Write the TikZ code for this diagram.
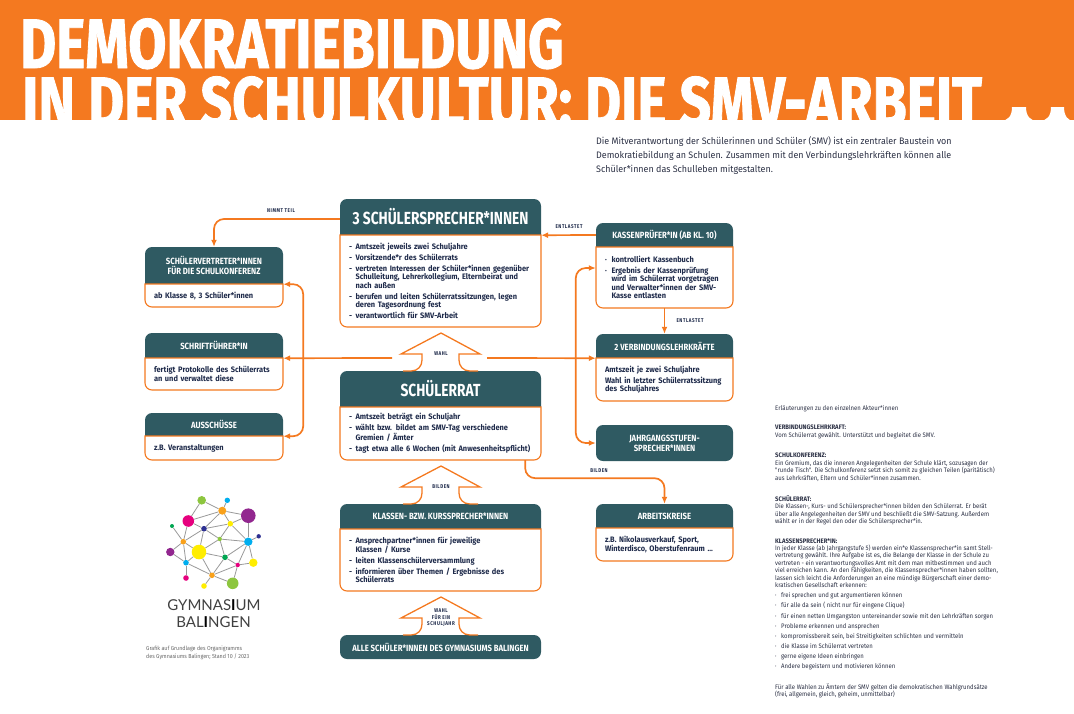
\documentclass[tikz,border=0pt]{standalone}
\usepackage{fontspec}
\usepackage{tikz}
\usetikzlibrary{arrows.meta}
\setmainfont{Fira Sans}
\newfontfamily\titleFont[FakeStretch=0.79,BoldFeatures={FakeBold=1.2}]{Fira Sans}
\newfontfamily\headFont[FakeStretch=0.86]{Fira Sans}
\newfontfamily\bigFont[FakeStretch=0.785]{Fira Sans}
\newfontfamily\tagFont[FakeStretch=0.82,LetterSpace=10]{Fira Sans}
\newfontfamily\bodyFont[FakeStretch=0.94]{Fira Sans}
\newfontfamily\noteFont[FakeStretch=0.92]{Fira Sans}
\newfontfamily\introFont[FakeStretch=0.95]{Fira Sans}
\newfontfamily\logoFont{Lato}
\definecolor{smvOrange}{HTML}{F47920}
\definecolor{smvTeal}{HTML}{2F5A62}
\definecolor{smvInk}{HTML}{1E2A4A}
\definecolor{noteInk}{HTML}{2B3044}
\tikzset{
smvLine/.style={color=smvOrange,line width=1.7pt,rounded corners=10pt},
smvArrow/.style={smvLine,-{Latex[length=7pt,width=6pt]}},
smvBoth/.style={smvLine,{Latex[length=7pt,width=6pt]}-{Latex[length=7pt,width=6pt]}},
headSmall/.style={font=\headFont\bfseries\fontsize{9}{10.2}\selectfont},
headBig/.style={font=\bigFont\bfseries\fontsize{17.5}{20}\selectfont},
headText/.style={text=white,inner sep=0pt,align=center},
bodyText/.style={text=smvInk,inner sep=0pt,inner xsep=9pt,align=left,
  font=\bodyFont\bfseries\fontsize{7.9}{8.4}\selectfont,
  execute at begin node={\setlength{\parskip}{0pt}\setlength{\parindent}{0pt}}},
tagText/.style={text=smvInk,inner sep=0pt,align=center,font=\tagFont\bfseries\fontsize{5.5}{6.5}\selectfont},
tealBox/.style={fill=smvTeal,rounded corners=7pt,headText,headSmall},
noteText/.style={text=noteInk,inner sep=0pt,anchor=north west,align=left,font=\noteFont\fontsize{6.5}{7.4}\selectfont},
logoDot/.style={circle,inner sep=0pt,minimum size=#1},
}
\newcommand\smvItem[2][-]{{\leftskip=6.5pt\noindent\hspace*{-6.5pt}\hbox to 6.5pt{#1\hfil}#2\par}\vskip 2.6pt}
\newcommand\noteItem[1]{\hbox to 6pt{·\hfil}#1\\[2.75pt]}
\newcommand\drawSmvBox[9]{
\pgfmathsetmacro\smvTextW{#4-18}
\fill[smvTeal] (#2,#3+#5) [rounded corners=7pt] -- (#2,#3) -- (#2+#4,#3) [sharp corners] -- (#2+#4,#3+#5) -- cycle;
\draw[color=smvOrange,line width=1.1pt,fill=white] (#2,#3+#5) [rounded corners=7pt] -- (#2,#3+#5+#6) -- (#2+#4,#3+#5+#6) [sharp corners] -- (#2+#4,#3+#5) -- cycle;
\node[headText,#7,minimum width=#4 pt,minimum height=#5 pt] (#1Head) at (#2+#4/2,#3+#5/2) {#8};
\node[bodyText,text width=\smvTextW pt,minimum height=#6 pt] (#1Body) at (#2+#4/2,#3+#5+#6/2) {#9\par\unskip};
}
\newcommand\drawUpArrow[4]{
\draw[color=smvOrange,line width=1.3pt,line join=miter] (403,#2+38) -- (411,#2+38) .. controls (418,#2+38) and (422,#2+33) .. (422,#2+27) -- (422,#2+21) -- (401,#2+21) -- (441,#2) -- (480,#2+21) -- (459,#2+21) -- (459,#2+27) .. controls (459,#2+33) and (463,#2+38) .. (470,#2+38) -- (478,#2+38);
\node[tagText] (#1) at (441,#2+#3) {#4};
}
\begin{document}
\begin{tikzpicture}[x=1pt,y=-1pt]
\useasboundingbox (0,0) rectangle (1074,713);
\fill[smvOrange] (0,0) rectangle (1074,120);
\fill[white] (1000,121) .. controls (1008,121) and (1012,116) .. (1012,107) -- (1026,107) .. controls (1026,116) and (1030,121) .. (1038,121) -- cycle;
\fill[white] (1039,121) .. controls (1047,121) and (1051,116) .. (1051,107) -- (1064,107) .. controls (1064,116) and (1068,121) .. (1074,121) -- cycle;
\node[anchor=base west,inner sep=0pt,text=white,align=left,font=\titleFont\bfseries\fontsize{70}{58}\selectfont] (title) at (20,126) {DEMOKRATIEBILDUNG\\\hspace*{2pt}IN DER SCHULKULTUR: DIE SMV-ARBEIT};
\node[noteText,font=\introFont\fontsize{9.4}{14}\selectfont] (intro) at (596,136.5) {Die Mitverantwortung der Schülerinnen und Schüler (SMV) ist ein zentraler Baustein von\\Demokratiebildung an Schulen. Zusammen mit den Verbindungslehrkräften können alle\\Schüler*innen das Schulleben mitgestalten.};
% linke Spalte
\drawSmvBox{vertreter}{145}{247}{138}{37}{23}{headSmall}{SCHÜLERVERTRETER*INNEN\\FÜR DIE SCHULKONFERENZ}{ab Klasse 8, 3 Schüler*innen}
\drawSmvBox{schrift}{145}{333}{138}{25}{32}{headSmall}{SCHRIFTFÜHRER*IN}{fertigt Protokolle des Schülerrats\\an und verwaltet diese}
\drawSmvBox{ausschuss}{145}{413}{138}{23}{24}{headSmall}{AUSSCHÜSSE}{z.B. Veranstaltungen}
% mittlere Spalte
\drawSmvBox{sprecher}{340}{199}{201}{36}{92}{headBig}{3 SCHÜLERSPRECHER*INNEN}{\smvItem{Amtszeit jeweils zwei Schuljahre}\smvItem{Vorsitzende*r des Schülerrats}\smvItem{vertreten Interessen der Schüler*innen gegenüber\\Schulleitung, Lehrerkollegium, Elternbeirat und\\nach außen}\smvItem{berufen und leiten Schülerratssitzungen, legen\\deren Tagesordnung fest}\smvItem{verantwortlich für SMV-Arbeit}}
\drawSmvBox{rat}{340}{371}{201}{36}{53}{headBig}{SCHÜLERRAT}{\smvItem{Amtszeit beträgt ein Schuljahr}\smvItem{wählt bzw. bildet am SMV-Tag verschiedene\\Gremien / Ämter}\smvItem{tagt etwa alle 6 Wochen (mit Anwesenheitspflicht)}}
\drawSmvBox{klassen}{340}{504}{201}{25}{62}{headSmall}{KLASSEN- BZW. KURSSPRECHER*INNEN}{\smvItem{Ansprechpartner*innen für jeweilige\\Klassen / Kurse}\smvItem{leiten Klassenschülerversammlung}\smvItem{informieren über Themen / Ergebnisse des\\Schülerrats}}
\node[tealBox,minimum width=201pt,minimum height=24pt] (alle) at (440.5,647) {ALLE SCHÜLER*INNEN DES GYMNASIUMS BALINGEN};
% rechte Spalte
\drawSmvBox{kasse}{596}{223}{137}{24}{61}{headSmall}{KASSENPRÜFER*IN (AB KL. 10)}{\smvItem[·]{kontrolliert Kassenbuch}\smvItem[·]{Ergebnis der Kassenprüfung\\wird im Schülerrat vorgetragen\\und Verwalter*innen der SMV-\\Kasse entlasten}}
\drawSmvBox{lehrer}{596}{334}{137}{24}{43}{headSmall}{2 VERBINDUNGSLEHRKRÄFTE}{Amtszeit je zwei Schuljahre\par\vskip 2.6pt Wahl in letzter Schülerratssitzung\\des Schuljahres}
\node[tealBox,minimum width=137pt,minimum height=36pt] (jahrgang) at (664.5,443) {JAHRGANGSSTUFEN-\\SPRECHER*INNEN};
\drawSmvBox{arbeit}{596}{504}{137}{24}{33}{headSmall}{ARBEITSKREISE}{z.B. Nikolausverkauf, Sport,\\Winterdisco, Oberstufenraum ...}
% Blockpfeile
\drawUpArrow{wahlTag}{333}{21}{WAHL}
\drawUpArrow{bildenTag}{466}{21}{BILDEN}
\drawUpArrow{jahrTag}{597}{21}{WAHL\\FÜR EIN\\SCHULJAHR}
\coordinate (wahlLeft) at (392,358);
\coordinate (wahlRight) at (487,358);
% Verbindungen
\draw[smvArrow] ([yshift=-2pt]sprecherHead.west) -| (vertreterHead.north);
\draw[smvBoth] (vertreterHead.south east) -- ++(20,0) |- (ausschussHead.south east);
\draw[smvArrow] (wahlLeft) -- (schriftHead.south east);
\draw[smvArrow] (wahlRight) -- (lehrerHead.south west);
\draw[smvBoth] ([yshift=9.5pt]kasseBody.west) -- ++(-20,0) |- (jahrgang.west);
\draw[smvArrow] (kasseHead.west) -- (sprecherHead.south east);
\draw[smvArrow] (kasseBody.south) -- (lehrerHead.north);
\draw[smvArrow] ([xshift=-16pt]ratBody.south east) -- ++(0,18) -| (arbeitHead.north);
\node[tagText] (nimmtTag) at (281,211) {NIMMT TEIL};
\node[tagText] (entlastetOben) at (569,227) {ENTLASTET};
\node[tagText] (entlastetUnten) at (690,321) {ENTLASTET};
\node[tagText] (bildenRechts) at (599,471) {BILDEN};
% Logo
\foreach \n/\x/\y/\d/\c in {a/201.7/500.3/8.6/8DC63F,b/227.3/500.3/5.4/00AEEF,c/222.3/510.7/8/F9A11B,d/188.3/521/11.6/E6007E,e/248.3/515.7/14.6/92278F,f/230.3/523.7/5.6/FFED00,g/204/528.7/5.6/2E3192,h/172/526/4/00A651,i/183.3/541.7/5.6/F9A11B,j/219.7/539/4.4/8DC63F,k/248.3/541.7/8.4/00AEEF,l/258.7/536.3/4.4/2E3192,m/170.3/552/8.4/92278F,n/199/552/14.6/FFED00,o/225/557.3/5.6/00A651,p/186/562.7/5.6/00AEEF,q/237.7/565/4.4/E6007E,r/253.3/562.7/8.4/FFED00,s/212/575.3/5.6/F9A11B,t/186/578/5.6/E6007E,u/204/586/5.6/FFED00,v/232.7/583.3/11.6/8DC63F}{
\definecolor{logoTmp}{HTML}{\c}
\node[logoDot=\d pt,fill=logoTmp] (\n) at (\x,\y) {};
}
\foreach \p/\q in {a/d,a/c,b/c,c/d,c/e,c/f,c/g,d/g,d/i,e/f,e/k,f/g,f/j,f/k,g/i,g/j,g/n,h/i,i/m,i/n,i/p,j/n,j/k,j/o,k/l,k/o,k/q,k/r,n/o,n/p,n/s,o/q,o/s,m/p,p/s,p/t,q/r,q/s,s/u,s/v,q/v}{
\draw[color=black!40,line width=0.8pt] (\p) -- (\q);
}
\node[inner sep=0pt,text=black!75,font=\logoFont\fontsize{15}{15}\selectfont] (logoOne) at (214,605) {GYMNAS{\color{black}\bfseries I}UM};
\node[inner sep=0pt,text=black!75,font=\logoFont\fontsize{15}{15}\selectfont] (logoTwo) at (213.5,622) {BAL{\color{black}\bfseries I}NGEN};
\node[noteText,text=black!60,font=\noteFont\fontsize{5.8}{8}\selectfont] (quelle) at (146,645.5) {Grafik auf Grundlage des Organigramms\\des Gymnasiums Balingen; Stand 10 / 2023};
% Erlaeuterungen
\node[noteText] (noteA) at (775,405.5) {Erläuterungen zu den einzelnen Akteur*innen};
\node[noteText] (noteB) at (775,425) {\textbf{VERBINDUNGSLEHRKRAFT:}\\Vom Schülerrat gewählt. Unterstützt und begleitet die SMV.};
\node[noteText] (noteC) at (775,453) {\textbf{SCHULKONFERENZ:}\\Ein Gremium, das die inneren Angelegenheiten der Schule klärt, sozusagen der\\"runde Tisch". Die Schulkonferenz setzt sich somit zu gleichen Teilen (paritätisch)\\aus Lehrkräften, Eltern und Schüler*innen zusammen.};
\node[noteText] (noteD) at (775,495) {\textbf{SCHÜLERRAT:}\\Die Klassen-, Kurs- und Schülersprecher*innen bilden den Schülerrat. Er berät\\über alle Angelegenheiten der SMV und beschließt die SMV-Satzung. Außerdem\\wählt er in der Regel den oder die Schülersprecher*in.};
\node[noteText] (noteE) at (775,538) {\textbf{KLASSENSPRECHER*IN:}\\In jeder Klasse (ab Jahrgangstufe 5) werden ein*e Klassensprecher*in samt Stell-\\vertretung gewählt. Ihre Aufgabe ist es, die Belange der Klasse in der Schule zu\\vertreten - ein verantwortungsvolles Amt mit dem man mitbestimmen und auch\\viel erreichen kann. An den Fähigkeiten, die Klassensprecher*innen haben sollten,\\lassen sich leicht die Anforderungen an eine mündige Bürgerschaft einer demo-\\kratischen Gesellschaft erkennen:};
\node[noteText] (noteF) at (775,592.5) {\noteItem{frei sprechen und gut argumentieren können}\noteItem{für alle da sein ( nicht nur für eingene Clique)}\noteItem{für einen netten Umgangston untereinander sowie mit den Lehrkräften sorgen}\noteItem{Probleme erkennen und ansprechen}\noteItem{kompromissbereit sein, bei Streitigkeiten schlichten und vermitteln}\noteItem{die Klasse im Schülerrat vertreten}\noteItem{gerne eigene Ideen einbringen}\hbox to 6pt{·\hfil}Andere begeistern und motivieren können};
\node[noteText] (noteG) at (775,683.5) {Für alle Wahlen zu Ämtern der SMV gelten die demokratischen Wahlgrundsätze\\(frei, allgemein, gleich, geheim, unmittelbar)};
\end{tikzpicture}
\end{document}
